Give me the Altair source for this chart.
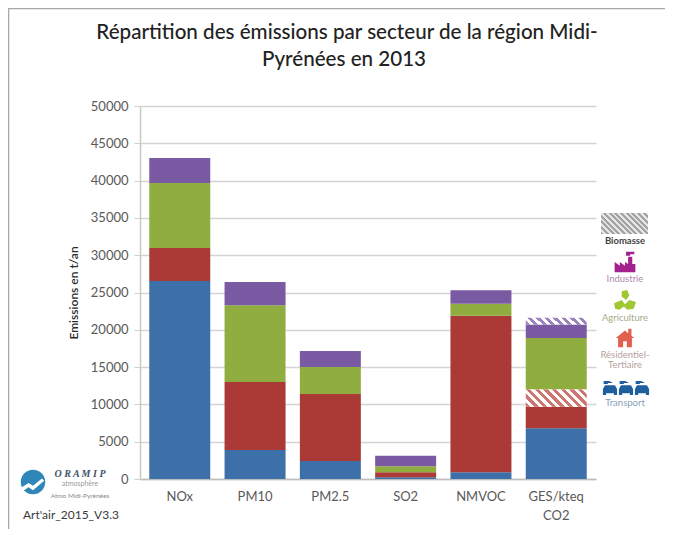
import math
import altair as alt
import pandas as pd

categories = ["NOx", "PM10", "PM2.5", "SO2", "NMVOC", "GES/kteq CO2"]
transport = [26540, 3900, 2400, 250, 900, 6800]
residentiel = [4420, 9100, 9000, 650, 21000, 2900]
biomasse_res = [0, 0, 0, 0, 0, 2300]
agriculture = [8720, 10300, 3600, 800, 1600, 6900]
industrie = [3350, 3100, 2150, 1400, 1800, 1800]
biomasse_ind = [0, 0, 0, 0, 0, 900]
series_names = ["Transport", "Résidentiel", "Biomasse rés.", "Agriculture", "Industrie", "Biomasse ind."]
series_values = [transport, residentiel, biomasse_res, agriculture, industrie, biomasse_ind]
solid_names = ["Transport", "Résidentiel", "Agriculture", "Industrie"]
solid_colors = ["#3d6fa8", "#ab3a36", "#8fae3f", "#7a5aa3"]
y_ticks = list(range(0, 50001, 5000))

W, H = 456, 373
OX, OY = 140, 106

rows = []
for ci, c in enumerate(categories):
    base = 0
    for name, vals in zip(series_names, series_values):
        v = vals[ci]
        if v:
            rows.append({"cat": c, "serie": name, "y0": base, "y1": base + v})
        base += v
df = pd.DataFrame(rows)

x_enc = alt.X("cat:N", sort=categories, title=None,
              scale=alt.Scale(paddingInner=0.19, paddingOuter=0.123),
              axis=alt.Axis(labelAngle=0, labelColor="#595959", labelFont="Lato", labelFontSize=13,
                            labelPadding=11, domainColor="#bdbdbd",
                            domainWidth=1.5, ticks=False, labelLineHeight=19,
                            labelExpr="split(datum.value, ' ')", labelLimit=100))
y_enc = alt.Y("y0:Q", title="Emissions en t/an",
              scale=alt.Scale(domain=[0, 50000], nice=False),
              axis=alt.Axis(values=y_ticks, format="d", labelOverlap=False, grid=True,
                            gridColor="#d4d4d4", gridWidth=1.5,
                            labelColor="#595959", labelFont="Lato", labelFontSize=13, labelPadding=6,
                            tickColor="#cfcfcf", tickSize=6, domainColor="#c8c8c8", domainWidth=1.5,
                            titleColor="#2b2b2b", titleFont="Lato", titleFontSize=12, titleFontWeight=600,
                            titlePadding=10))


def hatch(w, h, color, period, back="#ffffff"):
    r = h / w
    s = (1 + r) / (1 + r * r)
    n = max(1, round((w + h) / math.sqrt(2) / period))
    stops = []
    for i in range(n):
        a, b, c = i / n, (i + 0.5) / n, (i + 1) / n
        stops += [alt.GradientStop(offset=a, color=color), alt.GradientStop(offset=b, color=color),
                  alt.GradientStop(offset=b, color=back), alt.GradientStop(offset=c, color=back)]
    return alt.Gradient(gradient="linear", stops=stops, x1=0, y1=1, x2=s, y2=1 - r * s)


one = alt.Data(values=[{"a": 1}])


def txt(s, x, y, size=9.5, color="#777777", weight=400, font="Lato", style="normal", align="center"):
    return alt.Chart(one).mark_text(text=s, fontSize=size, color=color, fontWeight=weight, font=font,
                                    fontStyle=style, align=align, baseline="middle").encode(
        x=alt.value(x - OX), y=alt.value(y - OY))


def icon(path, x, y, size, color):
    return alt.Chart(one).mark_point(shape=path, filled=True, size=size, color=color, opacity=1, strokeWidth=0).encode(
        x=alt.value(x - OX), y=alt.value(y - OY))


bars = alt.Chart(df).transform_filter(
    alt.FieldOneOfPredicate(field="serie", oneOf=solid_names)
).mark_bar().encode(
    x=x_enc, y=y_enc, y2="y1:Q",
    color=alt.Color("serie:N", scale=alt.Scale(domain=solid_names, range=solid_colors), legend=None),
)

hatch_res = alt.Chart(df).transform_filter(alt.datum.serie == "Biomasse rés.").mark_bar(
    color=hatch(61, 17, "#cf7570", 6)).encode(x=x_enc, y=y_enc, y2="y1:Q")
hatch_ind = alt.Chart(df).transform_filter(alt.datum.serie == "Biomasse ind.").mark_bar(
    color=hatch(61, 7, "#9a84bd", 6)).encode(x=x_enc, y=y_enc, y2="y1:Q")

frame_top = alt.Chart(one).mark_rule(color="#a8a8a8", strokeWidth=1.5).encode(
    x=alt.value(8 - OX), x2=alt.value(673 - OX), y=alt.value(8.5 - OY))
frame_left = alt.Chart(one).mark_rule(color="#a8a8a8", strokeWidth=1.5).encode(
    x=alt.value(8.5 - OX), y=alt.value(8 - OY), y2=alt.value(535 - OY))

legend_hatch = alt.Chart(one).mark_rect(color=hatch(47, 21, "#a3a3a3", 4, "#e6e6e6")).encode(
    x=alt.value(601 - OX), x2=alt.value(648 - OX), y=alt.value(213 - OY), y2=alt.value(234 - OY))

factory = "M-1 1 L-1 0 L-0.5 0.35 L-0.5 0 L0 0.35 L0 0 L0.3 0.2 L0.3 -0.5 L0.7 -0.5 L0.7 0.2 L1 0.2 L1 1 Z M0.1 -0.6 L0.1 -1 L0.9 -1 L0.9 -0.75 L0.5 -0.75 L0.5 -0.6 Z"
farm = "M-1 0.2 L-0.3 -0.1 L0 0.3 L0.4 -0.1 L1 0.1 L0.8 0.7 L0.2 0.8 L-0.1 0.5 L-0.5 0.8 L-0.9 0.7 Z M-0.3 -0.9 L0.2 -1 L0.4 -0.5 L0.1 -0.1 L-0.3 -0.4 Z"
house = "M-1 0 L0 -0.8 L0.35 -0.52 L0.35 -1 L0.7 -1 L0.7 -0.25 L1 0 L0.75 0 L0.75 1 L0.2 1 L0.2 0.35 L-0.2 0.35 L-0.2 1 L-0.75 1 L-0.75 0 Z"
car = "M-1 1 L-1 0.15 L-0.7 -0.4 L0.7 -0.4 L1 0.15 L1 1 L0.55 1 L0.55 0.75 L-0.55 0.75 L-0.55 1 Z M-0.9 -0.55 L-0.9 -1 L-0.1 -1 L0.4 -0.7 L-0.3 -0.7 L-0.3 -0.55 Z"

marks = [
    frame_top, frame_left,
    bars, hatch_res, hatch_ind,
    legend_hatch,
    txt("Répartition des émissions par secteur de la région Midi-", 347, 33, size=20.6, color="#222222", weight=500),
    txt("Pyrénées en 2013", 344, 60, size=20.6, color="#222222", weight=500),
    txt("Biomasse", 625, 241, size=9.5, color="#444444", weight=700),
    icon(factory, 625, 262, 430, "#a3228d"),
    txt("Industrie", 625, 279, color="#b08aaa"),
    icon(farm, 625, 301, 480, "#a0c832"),
    txt("Agriculture", 625, 318, color="#a3ad88"),
    icon(house, 625, 338, 340, "#e2604f"),
    txt("Résidentiel-", 625, 355, color="#b8a09c"),
    txt("Tertiaire", 625, 365, color="#b8a09c"),
    icon(car, 610, 388, 200, "#1f5f9e"),
    icon(car, 626, 388, 200, "#1f5f9e"),
    icon(car, 642, 388, 200, "#1f5f9e"),
    txt("Transport", 625, 403, color="#8aa0b8"),
    alt.Chart(one).mark_circle(color="#2f86b8", size=600, opacity=1).encode(
        x=alt.value(33 - OX), y=alt.value(482 - OY)),
    alt.Chart(one).mark_point(shape="M-1 0.3 L-0.4 -0.1 L0 0.15 L0.8 -0.5 L1 -0.3 L0 0.55 L-0.4 0.3 L-1 0.7 Z",
                              filled=True, color="#ffffff", size=500, opacity=1, strokeWidth=0).encode(
        x=alt.value(33 - OX), y=alt.value(484 - OY)),
    txt("O R A M I P", 80, 474, size=10, color="#44546a", weight=700, font="Liberation Serif", style="italic"),
    txt("atmosphère", 80, 484, size=7, color="#9a9a9a"),
    txt("Atmo Midi-Pyrénées", 80, 496, size=6.5, color="#8a8a8a"),
    txt("Art'air_2015_V3.3", 71, 515, size=12, color="#3a3a3a"),
]

chart = alt.layer(*marks).properties(
    width=W, height=H,
    autosize=alt.AutoSizeParams(type="none"),
    padding={"left": OX - 8, "top": OY - 8, "right": 69, "bottom": 50},
    background="#ffffff",
).configure_view(stroke=None)

chart.save("out.html", embed_options={"renderer": "svg", "actions": False})
